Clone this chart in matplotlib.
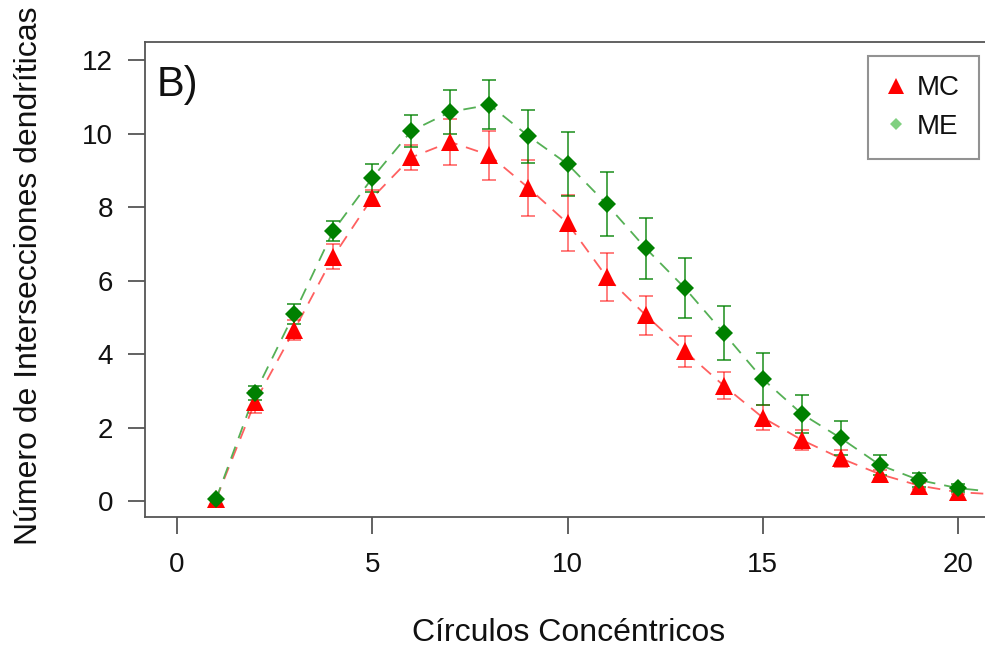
import matplotlib
matplotlib.use("Agg")
import matplotlib.pyplot as plt
from matplotlib.lines import Line2D

circles = list(range(1, 22))
mc_mean = [0.05, 2.70, 4.65, 6.65, 8.25, 9.35, 9.77, 9.41, 8.52, 7.56, 6.10, 5.06, 4.08,
           3.14, 2.27, 1.66, 1.16, 0.73, 0.42, 0.24, 0.18]
mc_err = [0.02, 0.30, 0.28, 0.35, 0.20, 0.35, 0.62, 0.67, 0.76, 0.76, 0.65, 0.53, 0.42,
          0.37, 0.33, 0.26, 0.24, 0.12, 0.08, 0.06, 0.05]
me_mean = [0.05, 2.94, 5.10, 7.35, 8.79, 10.07, 10.59, 10.78, 9.93, 9.17, 8.08, 6.88, 5.80,
           4.57, 3.32, 2.37, 1.71, 0.98, 0.57, 0.35, 0.24]
me_err = [0.02, 0.18, 0.27, 0.27, 0.38, 0.43, 0.60, 0.67, 0.72, 0.87, 0.86, 0.83, 0.82,
          0.73, 0.70, 0.52, 0.46, 0.27, 0.18, 0.10, 0.08]
series_labels = ["MC", "ME"]
x_ticks = [0, 5, 10, 15, 20]
y_ticks = [0, 2, 4, 6, 8, 10, 12]

plt.rcParams['font.family'] = ['Liberation Sans', 'DejaVu Sans']

W, H = 985, 649
fig = plt.figure(figsize=(W / 100, H / 100), dpi=100)
# axes box: left 145px, top 42px, bottom 517px; right side extends past the image
xmin, xmax = -0.82, 25.0
ppu_x = 39.05
left_px = 145
right_px = left_px + (xmax - xmin) * ppu_x
ax = fig.add_axes([left_px / W, (H - 517) / H, (right_px - left_px) / W, (517 - 42) / H])
ax.set_xlim(xmin, xmax)
ax.set_ylim(-0.435, 12.49)

spine_col = "#555555"
for s in ax.spines.values():
    s.set_color(spine_col)
    s.set_linewidth(1.3)

# lines
dash = (0, (7, 5))
ax.plot(circles, mc_mean, color="#ff6060", lw=1.3, linestyle=dash, zorder=2)
ax.plot(circles, me_mean, color="#55b055", lw=1.3, linestyle=dash, zorder=2)
# error bars
ax.errorbar(circles, mc_mean, yerr=mc_err, fmt="none", ecolor=(1, 0, 0, 0.5),
            elinewidth=1.4, capsize=4.8, capthick=1.4, zorder=3)
ax.errorbar(circles, me_mean, yerr=me_err, fmt="none", ecolor=(0, 0.5, 0, 0.7),
            elinewidth=1.4, capsize=4.8, capthick=1.4, zorder=3)
# markers
ax.plot(circles, mc_mean, linestyle="none", marker="^", ms=13, color="#ff0000",
        markeredgewidth=0, zorder=4)
ax.plot(circles, me_mean, linestyle="none", marker="D", ms=9, color="#008000",
        markeredgewidth=0, zorder=5)

ax.set_xticks(x_ticks)
ax.set_yticks(y_ticks)
ax.set_xticklabels([str(v) for v in x_ticks])
ax.set_yticklabels([str(v) for v in y_ticks])
ax.tick_params(axis="both", direction="out", length=12, width=1.3, color=spine_col,
               labelsize=20, labelcolor="#111111")
ax.tick_params(axis="y", pad=11)
ax.tick_params(axis="x", pad=13)

fig.text(569 / W, 1 - 641 / H, "Círculos Concéntricos", ha="center", va="baseline",
         fontsize=23, color="#111111")
fig.text(37 / W, 1 - 276 / H, "Número de Intersecciones dendríticas", ha="center",
         va="baseline", rotation=90, rotation_mode="anchor", fontsize=23, color="#111111")
fig.text(157 / W, 1 - 96 / H, "B)", fontsize=30, ha="left", va="baseline", color="#111111")

handles = [
    Line2D([], [], linestyle="none", marker="^", ms=11, color="#ff0000", markeredgewidth=0),
    Line2D([], [], linestyle="none", marker="D", ms=6.5, color="#80d080", markeredgewidth=0),
]
leg = fig.legend(handles, series_labels, loc="upper right",
                 bbox_to_anchor=(979 / W, 1 - 56 / H), fontsize=20, frameon=True,
                 fancybox=False, borderpad=0.7, handlelength=0.6, handletextpad=0.45,
                 labelspacing=0.45, borderaxespad=0)
for t in leg.get_texts():
    t.set_color("#111111")
leg.get_frame().set_edgecolor("#777777")
leg.get_frame().set_linewidth(1.5)

fig.savefig("out.png", dpi=100)
